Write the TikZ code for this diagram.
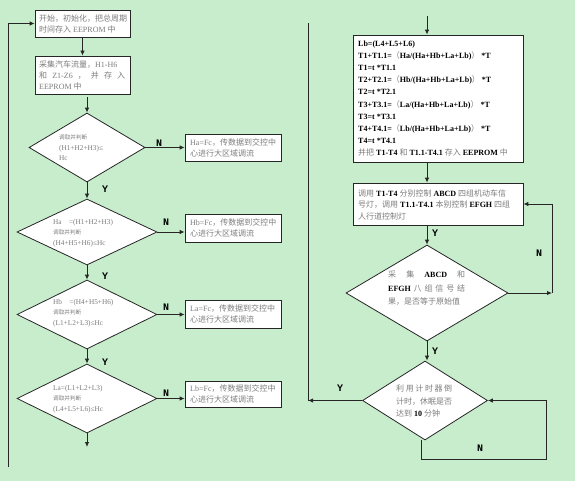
\documentclass[tikz,border=0pt]{standalone}
\usepackage{fontspec}
\setmainfont{Liberation Serif}
\setmonofont{Liberation Mono}
\newfontfamily\cjk{Noto Sans CJK SC}
\usetikzlibrary{shapes.geometric,arrows.meta}
\definecolor{bggreen}{RGB}{199,237,204}
\definecolor{txtgray}{RGB}{125,125,125}
\newcommand\zh[1]{{\cjk\mdseries\color{txtgray}#1}}
\newcommand\zhs[1]{{\cjk\mdseries\color{txtgray}\fontsize{5.6}{10.5}\selectfont#1}}
\tikzset{
  box/.style={draw=black!85, fill=white, line width=0.8pt, inner sep=0pt},
  dia/.style={diamond, draw=black!85, fill=white, line width=0.8pt, inner sep=0pt},
  txt/.style={text=txtgray, font=\fontsize{8}{11}\selectfont, align=left, inner sep=0pt, anchor=west},
  dtxt/.style={text=txtgray, font=\fontsize{7.3}{10.5}\selectfont, align=left, inner sep=0pt, anchor=west},
  btxt/.style={text=black, font=\fontsize{8}{12.2}\selectfont\bfseries, align=left, inner sep=0pt, anchor=west},
  yn/.style={font=\fontsize{10}{10}\selectfont\ttfamily\bfseries, inner sep=0pt},
  arr/.style={-{Latex[length=5pt,width=4.5pt]}, line width=0.9pt, draw=black!85},
  ln/.style={line width=0.9pt, draw=black!85}
}
\begin{document}
\begin{tikzpicture}[x=1pt,y=-1pt]
% background
\fill[bggreen] (0,0) rectangle (575,481);
\useasboundingbox (0,0) rectangle (575,481);

% Drawing left column boxes
\node[box, minimum width=95pt, minimum height=27pt] (b1) at (82.5,23.5) {};
\node[txt] (b1t) at (39,24) {\zh{开始，初始化，把总周期}\\\zh{时间存入} EEPROM \zh{中}};
\node[box, minimum width=95pt, minimum height=38pt] (b2) at (82.5,75) {};
\node[txt] (b2t) at (39,75) {\zh{采集汽车流量，}H1-H6\\
  \makebox[86pt][s]{\zh{和}\hfil Z1-Z6\hfil\zh{，}\hfil\zh{并}\hfil\zh{存}\hfil\zh{入}}\\
  EEPROM \zh{中}};

% Drawing left column diamonds
\node[dia, minimum width=116pt, minimum height=69pt] (d1) at (87,147.5) {};
\node[dtxt] (d1t) at (59,148) {\zhs{调取并判断}\\(H1+H2+H3)≤\\Hc};
\node[dia, minimum width=140pt, minimum height=66pt] (d2) at (87,232) {};
\node[dtxt] (d2t) at (53,233) {Ha\quad=(H1+H2+H3)\\\zhs{调取并判断}\\(H4+H5+H6)≤Hc};
\node[dia, minimum width=140pt, minimum height=69pt] (d3) at (87,314.5) {};
\node[dtxt] (d3t) at (53,313) {Hb\quad=(H4+H5+H6)\\\zhs{调取并判断}\\(L1+L2+L3)≤Hc};
\node[dia, minimum width=140pt, minimum height=69pt] (d4) at (87,398.5) {};
\node[dtxt] (d4t) at (53,399) {La=(L1+L2+L3)\\\zhs{调取并判断}\\(L4+L5+L6)≤Hc};

% Drawing right hand boxes of left column
\node[box, minimum width=96pt, minimum height=27pt] (r1) at (233,147.5) {};
\node[txt] (r1t) at (190,147.5) {Ha=Fc\zh{，传数据到交控中}\\\zh{心进行大区域调流}};
\node[box, minimum width=96pt, minimum height=28pt] (r2) at (233,228) {};
\node[txt] (r2t) at (190,228) {Hb=Fc\zh{，传数据到交控中}\\\zh{心进行大区域调流}};
\node[box, minimum width=96pt, minimum height=28pt] (r3) at (233,314) {};
\node[txt] (r3t) at (190,314) {La=Fc\zh{，传数据到交控中}\\\zh{心进行大区域调流}};
\node[box, minimum width=96pt, minimum height=26pt] (r4) at (233,394) {};
\node[txt] (r4t) at (190,394) {Lb=Fc\zh{，传数据到交控中}\\\zh{心进行大区域调流}};

% Drawing left column connectors
\coordinate (lb) at (8,467);
\coordinate (d4e) at (87,447);
\draw[arr] (b1.south) -- (b2.north -| b1.south);
\draw[arr] (d1.north |- b2.south) ++(0,3) -- (d1.north);
\draw[arr] (d1.south) -- (d2.north);
\draw[arr] (d2.south) -- (d3.north);
\draw[arr] (d3.south) -- (d4.north);
\draw[arr] (d4.south) -- (d4e);
\draw[arr] (d1.east) -- (d1.east -| r1.west);
\draw[arr] (d2.east) -- (d2.east -| r2.west);
\draw[arr] (d3.east) -- (d3.east -| r3.west);
\draw[arr] (d4.east) -- (d4.east -| r4.west);
\draw[arr] (lb) |- (b1.west);

% Marking Y and N of left column
\node[yn] (n1) at (159,143) {N};
\node[yn] (n2) at (166,222) {N};
\node[yn] (n3) at (166,307) {N};
\node[yn] (n4) at (166,393) {N};
\node[yn] (y1) at (105,189) {Y};
\node[yn] (y2) at (105,276) {Y};
\node[yn] (y3) at (105,362) {Y};

% Drawing right column boxes
\coordinate (in) at (427,16);
\node[box, minimum width=170pt, minimum height=127pt] (big) at (438,98.5) {};
\node[btxt] (bigt) at (358,98.5) {Lb=(L4+L5+L6)\\
  T1+T1.1=\zh{（}Ha/(Ha+Hb+La+Lb)\zh{）} *T\\
  T1=t *T1.1\\
  T2+T2.1=\zh{（}Hb/(Ha+Hb+La+Lb)\zh{）} *T\\
  T2=t *T2.1\\
  T3+T3.1=\zh{（}La/(Ha+Hb+La+Lb)\zh{）} *T\\
  T3=t *T3.1\\
  T4+T4.1=\zh{（}Lb/(Ha+Hb+La+Lb)\zh{）} *T\\
  T4=t *T4.1\\
  \zh{并把} T1-T4 \zh{和} T1.1-T4.1 \zh{存入} EEPROM \zh{中}};
\node[box, minimum width=170pt, minimum height=42pt] (ctl) at (438,204) {};
\node[btxt, font=\fontsize{8}{11.5}\selectfont\bfseries] (ctlt) at (358,204.5) {\zh{调用} T1-T4 \zh{分别控制} ABCD \zh{四组机动车信}\\
  \zh{号灯，调用} T1.1-T4.1 \zh{本别控制} EFGH \zh{四组}\\
  \zh{人行道控制灯}};

% Drawing right column diamonds
\node[dia, minimum width=162pt, minimum height=96pt] (d5) at (427,293) {};
\node[btxt, font=\fontsize{8}{13.5}\selectfont\bfseries] (d5t) at (388,288.5) {\makebox[77pt][s]{\zh{采}\hfil\zh{集}\hfil ABCD\hfil\zh{和}}\\
  \makebox[77pt][s]{EFGH\hfil\zh{八}\hfil\zh{组}\hfil\zh{信}\hfil\zh{号}\hfil\zh{结}}\\
  \zh{果，是否等于原始值}};
\node[dia, minimum width=125pt, minimum height=79pt] (d6) at (425,400.5) {};
\node[btxt, font=\fontsize{8}{12.5}\selectfont\bfseries] (d6t) at (396,401) {\makebox[56pt][s]{\zh{利}\hfil\zh{用}\hfil\zh{计}\hfil\zh{时}\hfil\zh{器}\hfil\zh{倒}}\\
  \zh{计时，休眠是否}\\
  \zh{达到} 10 \zh{分钟}};

% Drawing right column connectors
\coordinate (rt) at (308,23);
\coordinate (ry) at (308,400.5);
\coordinate (nr) at (552,293);
\coordinate (nb) at (546,459);
\draw[arr] (in) -- (in |- big.north);
\draw[arr] (in |- big.south) -- (in |- ctl.north);
\draw[arr] (d5.north |- ctl.south) -- (d5.north);
\draw[arr] (d5.south) -- (d5.south |- d6.north);
\draw[arr] (d5.east) -- (nr);
\draw[arr] (nr) |- (ctl.east);
\draw[arr] (d6.west) -- (ry);
\draw[ln] (ry) -- (rt);
\draw[arr] ([xshift=-4pt]d6.south) |- (nb) |- (d6.east);

% Marking Y and N of right column
\node[yn] (y4) at (435,233) {Y};
\node[yn] (n5) at (539,253) {N};
\node[yn] (y5) at (435,351) {Y};
\node[yn] (y6) at (340,388) {Y};
\node[yn] (n6) at (480,448) {N};
\end{tikzpicture}
\end{document}
